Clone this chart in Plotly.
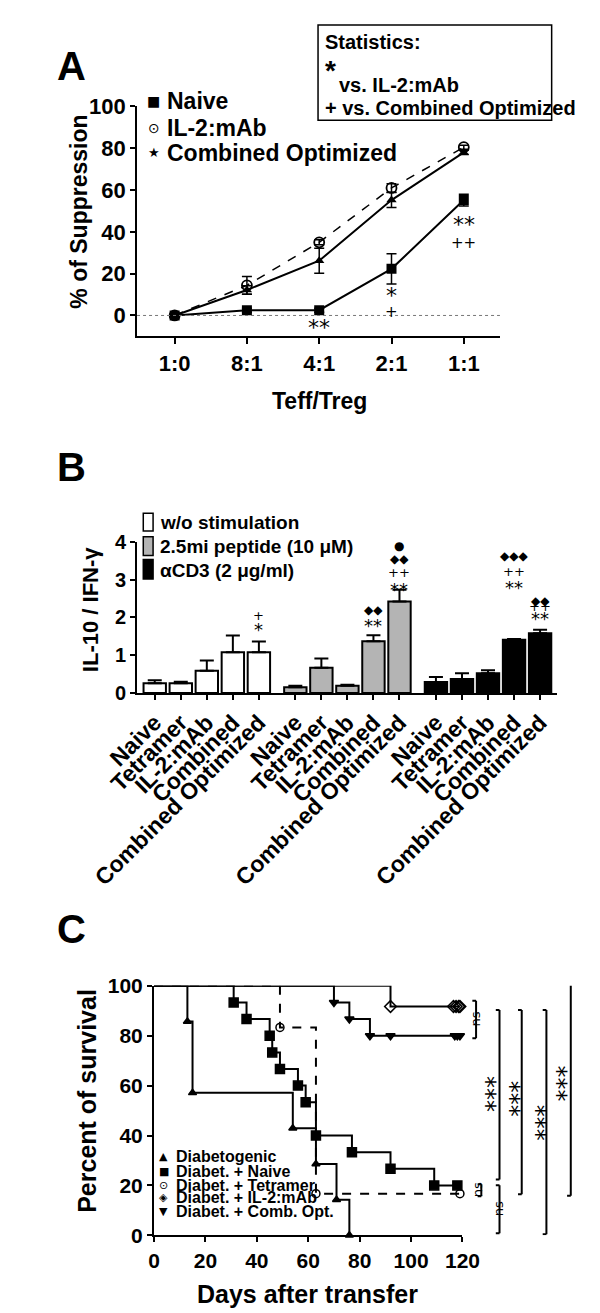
"""Three-panel figure: Treg suppression, IL-10/IFN-γ ratio bars, diabetes-free survival."""
import plotly.graph_objects as go

W, H = 600, 1313
FONT = "Liberation Sans, Arial, sans-serif"
SYM = "DejaVu Sans, sans-serif"

# ---- Panel A: % of suppression by Teff/Treg ratio
ratios = ["1:0", "8:1", "4:1", "2:1", "1:1"]
naive_sup = [0, 2.5, 2.5, 22.3, 55.2]
naive_sup_err = [0, 1.0, 1.0, 7.2, 2.8]
il2_sup = [0, 14.4, 35.0, 61.0, 80.5]
il2_sup_err = [0, 4.2, 1.2, 2.0, 1.0]
comb_sup = [0, 12.2, 26.2, 55.2, 78.0]
comb_sup_err = [0, 2.0, 6.0, 3.6, 1.0]
# (ratio index, y, label)
a_stats = [(2, -6.0, "**"), (3, 9.4, "*"), (3, 1.6, "+"), (4, 43.5, "**"), (4, 34.8, "++")]

# ---- Panel B: IL-10 / IFN-γ ratio
b_groups = ["w/o stimulation", "2.5mi peptide (10 μM)", "αCD3 (2 μg/ml)"]
b_colors = ["white", "#b4b4b4", "black"]
b_treat = ["Naive", "Tetramer", "IL-2:mAb", "Combined", "Combined Optimized"]
wo_vals = [0.26, 0.26, 0.59, 1.08, 1.08]
wo_err = [0.08, 0.04, 0.27, 0.44, 0.28]
pep_vals = [0.15, 0.67, 0.19, 1.37, 2.42]
pep_err = [0.04, 0.24, 0.03, 0.16, 0.31]
cd3_vals = [0.29, 0.37, 0.52, 1.41, 1.58]
cd3_err = [0.13, 0.15, 0.08, 0.02, 0.09]
# (group, treatment, y, label)
b_stats = [
    (0, 4, 2.05, "+"), (0, 4, 1.68, "*"),
    (1, 3, 2.20, "◆◆"), (1, 3, 1.78, "**"),
    (1, 4, 4.13, "●"), (1, 4, 3.79, "◆◆"), (1, 4, 3.43, "++"), (1, 4, 3.06, "**"),
    (2, 3, 3.86, "◆◆◆"), (2, 3, 3.46, "++"), (2, 3, 3.11, "**"),
    (2, 4, 2.68, "◆◆"), (2, 4, 2.29, "++"), (2, 4, 1.98, "**"),
]
B_YMAX = 4

# ---- Panel C: survival after transfer (Kaplan-Meier steps)
diab_days = [0, 13, 15, 54, 63, 71, 76]
diab_surv = [100, 85.7, 57.1, 42.9, 28.6, 14.3, 0]
naive_days = [0, 31, 36, 45, 46, 49, 56, 59, 63, 77, 92, 109, 118]
naive_surv = [100, 93.3, 86.7, 80, 73.3, 66.7, 60, 53.3, 40, 33.3, 26.7, 20, 20]
tet_days = [0, 49, 63, 119]
tet_surv = [100, 83.3, 16.7, 16.7]
il2_days = [0, 92, 116.5, 117.5, 118.5, 119]
il2_surv = [100, 91.7, 91.7, 91.7, 91.7, 91.7]
comb_days = [0, 70, 76, 84, 92, 117, 118, 119]
comb_surv = [100, 93.3, 86.7, 80, 80, 80, 80, 80]
# significance brackets: (x in axis-domain units, top %, bottom %, label, label x, label y)
c_brackets = [
    (1.044, 94.0, 79.0, "ns", 1.072, 86.6),
    (1.061, 20.5, 15.7, "ns", 1.080, 18.3),
    (1.120, 20.1, 0.8, "ns", 1.150, 10.6),
    (1.120, 90.3, 22.4, "***", 1.158, 56.7),
    (1.192, 90.3, 16.5, "***", 1.235, 54.7),
    (1.272, 90.3, 0.4, "***", 1.321, 44.9),
    (1.351, 104.4, 15.9, "***", 1.389, 60.6),
]

fig = go.Figure()

# panel A traces
fig.add_trace(go.Scatter(
    x=list(range(5)), y=naive_sup, mode="lines+markers", xaxis="x", yaxis="y",
    line=dict(color="black", width=2),
    marker=dict(symbol="square", size=10, color="black"),
    error_y=dict(array=naive_sup_err, color="black", thickness=1.5, width=5),
))
fig.add_trace(go.Scatter(
    x=list(range(5)), y=il2_sup, mode="lines+markers", xaxis="x", yaxis="y",
    line=dict(color="black", width=1.5, dash="dash"),
    marker=dict(symbol="circle-open", size=10, color="black", line=dict(width=1.8)),
    error_y=dict(array=il2_sup_err, color="black", thickness=1.5, width=5),
))
fig.add_trace(go.Scatter(
    x=list(range(5)), y=comb_sup, mode="lines+markers", xaxis="x", yaxis="y",
    line=dict(color="black", width=2),
    marker=dict(symbol="triangle-up", size=9, color="black"),
    error_y=dict(array=comb_sup_err, color="black", thickness=1.5, width=5),
))

# panel B bars, three groups of five with a gap between groups
group_offset = [0, 5.4, 10.8]
b_vals = [wo_vals, pep_vals, cd3_vals]
b_errs = [wo_err, pep_err, cd3_err]
b_x_all = []
for g in range(3):
    xs = [group_offset[g] + i for i in range(5)]
    b_x_all += xs
    fig.add_trace(go.Bar(
        x=xs, y=b_vals[g], width=0.86, xaxis="x2", yaxis="y2",
        marker=dict(color=b_colors[g], line=dict(color="black", width=2)),
        error_y=dict(type="data", array=b_errs[g], arrayminus=[0] * 5, symmetric=False,
                     color="black", thickness=2, width=7),
    ))

# panel C survival curves
curves = [
    (diab_days, diab_surv, "triangle-up", 7, "solid"),
    (naive_days, naive_surv, "square", 9, "solid"),
    (tet_days, tet_surv, "circle-open", 8, "dash"),
    (il2_days, il2_surv, "diamond-open", 9, "solid"),
    (comb_days, comb_surv, "triangle-down", 8, "solid"),
]
for days, surv, sym, sz, dash in curves:
    fig.add_trace(go.Scatter(
        x=days, y=surv, mode="lines", line_shape="hv", xaxis="x3", yaxis="y3",
        line=dict(color="black", width=2, dash=dash), cliponaxis=False,
    ))
    fig.add_trace(go.Scatter(
        x=days[1:], y=surv[1:], mode="markers", xaxis="x3", yaxis="y3",
        marker=dict(symbol=sym, size=sz, color="black", line=dict(width=1.5, color="black")),
        cliponaxis=False,
    ))


def axis(domain, rng, anchor, size, **kw):
    d = dict(domain=domain, range=rng, anchor=anchor, showgrid=False, zeroline=False,
             showline=True, linecolor="black", linewidth=2, ticks="outside",
             ticklen=5, tickwidth=2, tickcolor="black",
             tickfont=dict(family=FONT, size=size, color="black", weight="bold"))
    d.update(kw)
    return d


def px(x):
    return x / W


def py(y):
    return 1 - y / H


fig.update_layout(
    width=W, height=H, margin=dict(l=0, r=0, t=0, b=0),
    paper_bgcolor="white", plot_bgcolor="white", showlegend=False, barmode="overlay",
    xaxis=axis([px(92), px(499)], [-0.52, 4.5], "y", 22,
               tickvals=list(range(5)), ticktext=ratios, ticklen=6),
    yaxis=axis([py(322), py(88)], [-10, 100], "x", 22, tickvals=[0, 20, 40, 60, 80, 100]),
    xaxis2=axis([px(92), px(563)], [-0.68, 15.45], "y2", 23,
                tickvals=b_x_all, ticktext=b_treat * 3, tickangle=-45),
    yaxis2=axis([py(685), py(531)], [0, B_YMAX], "x2", 20, tickvals=[0, 1, 2, 3, 4]),
    xaxis3=axis([px(111), px(457)], [0, 120], "y3", 21, tickvals=list(range(0, 121, 20))),
    yaxis3=axis([py(1237), py(983)], [0, 100], "x3", 21, tickvals=list(range(0, 101, 20))),
)


def note(text, x, y, size, xanchor="center", angle=0, family=FONT, bold=True):
    fig.add_annotation(x=px(x), y=py(y), xref="paper", yref="paper",
                       text=f"<b>{text}</b>" if bold else text, showarrow=False,
                       xanchor=xanchor, yanchor="middle", textangle=angle,
                       font=dict(family=family, size=size, color="black"))


def stat_size(txt, star, plus, mark):
    if "*" in txt:
        return star
    if "+" in txt:
        return plus
    return mark


# panel letters and axis titles
note("A", 18, 47, 40)
note("B", 18, 455, 40)
note("C", 18, 925, 40)
note("% of Suppression", 27, 195, 23, angle=-90)
note("Teff/Treg", 297, 388, 23)
note("IL-10 / IFN-γ", 40, 600, 22, angle=-90)
note("Percent of survival", 36, 1100, 25, angle=-90)
note("Days after transfer", 283, 1297, 25)

# panel A legend + statistics box
for (glyph, gsize), label, yy in zip([("■", 14), ("⊙", 14), ("★", 13)],
                                     ["Naive", "IL-2:mAb", "Combined Optimized"], [82, 110, 135]):
    note(glyph, 111, yy, gsize, family=SYM, bold=False)
    note(label, 123, yy, 23, xanchor="left")
fig.add_shape(type="rect", xref="paper", yref="paper", x0=px(295), x1=px(557),
              y0=py(102), y1=py(5), line=dict(color="black", width=1.5))
note("Statistics:", 300, 22, 20, xanchor="left")
note("*", 300, 51, 28, xanchor="left")
note("vs. IL-2:mAb", 316, 66, 20, xanchor="left")
note("+ vs. Combined Optimized", 300, 90, 20, xanchor="left")

fig.add_shape(type="line", xref="x domain", yref="y", x0=0, x1=1, y0=0, y1=0,
              line=dict(color="#777777", width=1, dash="dot"))
for i, yv, txt in a_stats:
    fig.add_annotation(x=i, y=yv, xref="x", yref="y", text=txt, showarrow=False,
                       font=dict(family=SYM, size=stat_size(txt, 22, 15, 15), color="black"))

# panel B legend + statistics (domain-relative y so marks above the axis top still show)
for yy0, yy1, col, label, yy in zip([502, 526, 549], [520, 545, 569], b_colors, b_groups, [511, 536, 560]):
    fig.add_shape(type="rect", xref="paper", yref="paper", x0=px(99), x1=px(110),
                  y0=py(yy1), y1=py(yy0), fillcolor=col, line=dict(color="black", width=1.5))
    note(label, 115, yy, 19, xanchor="left")
for g, t, yv, txt in b_stats:
    fig.add_annotation(x=group_offset[g] + t, y=yv / B_YMAX, xref="x2", yref="y2 domain",
                       text=txt, showarrow=False,
                       font=dict(family=SYM, size=stat_size(txt, 18, 13, 12), color="black"))

# panel C legend
c_leg = [("▲", "Diabetogenic"), ("■", "Diabet. + Naive"), ("⊙", "Diabet. + Tetramer"),
         ("◈", "Diabet. + IL-2:mAb"), ("▼", "Diabet. + Comb. Opt.")]
for (glyph, label), yy in zip(c_leg, [1157, 1172, 1186, 1199, 1213]):
    note(glyph, 122, yy, 11, family=SYM, bold=False)
    note(label, 133, yy, 16, xanchor="left")

# panel C significance brackets
arm = 0.012
for xb, yt, yb, lab, lx, ly in c_brackets:
    for x0, x1, y0, y1 in [(xb, xb, yb, yt), (xb - arm, xb, yt, yt), (xb - arm, xb, yb, yb)]:
        fig.add_shape(type="line", xref="x3 domain", yref="y3", x0=x0, x1=x1, y0=y0, y1=y1,
                      line=dict(color="black", width=2))
    fig.add_annotation(x=lx, y=ly, xref="x3 domain", yref="y3", text=lab, showarrow=False,
                       textangle=-90, font=dict(family=SYM, size=13 if lab == "ns" else 24, color="black"))

fig.write_html("out.html")
